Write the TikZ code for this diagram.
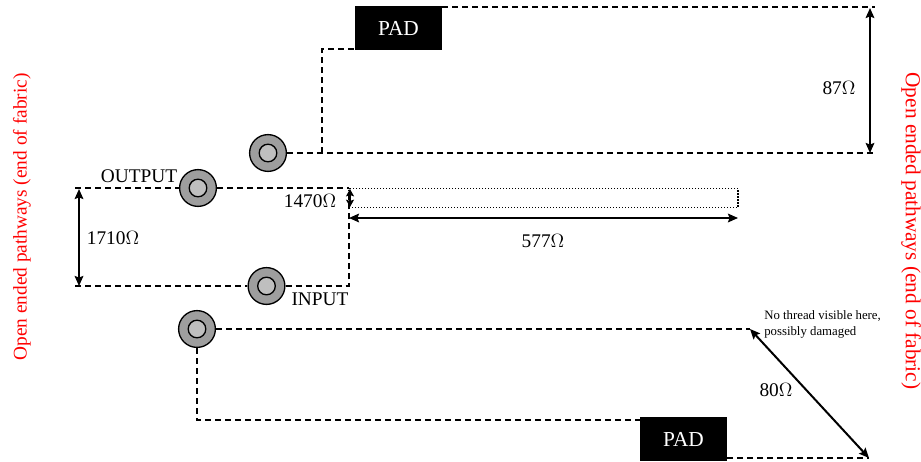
\documentclass[tikz,border=0pt]{standalone}
\usepackage{fontspec}
\usetikzlibrary{arrows.meta}
\setmainfont{Liberation Serif}
\tikzset{
    thread/.style={-,dash pattern=on 4.5pt off 3pt,line width=1.1pt},
    span/.style={{Stealth[length=7.5pt,width=6.5pt,inset=1.2pt]}-{Stealth[length=7.5pt,width=6.5pt,inset=1.2pt]},line width=1.5pt},
    shortspan/.style={{Stealth[length=5.5pt,width=6pt,inset=1pt]}-{Stealth[length=5.5pt,width=6pt,inset=1pt]},line width=1.5pt},
    pad/.style={fill=black,text=white,minimum width=65.25pt,minimum height=33pt,inner sep=0pt,font=\fontsize{16}{18}\selectfont},
    via/.style={circle,draw,fill=black!38,line width=1pt,minimum size=27.6pt,inner sep=0pt},
    viacore/.style={circle,draw,fill=black!25,line width=1pt,minimum size=13.2pt,inner sep=0pt},
    note/.style={red,font=\fontsize{14.5}{17}\selectfont}
}
\begin{document}
\begin{tikzpicture}[x=0.75pt,y=-0.75pt,font=\fontsize{14.5}{17}\selectfont]
    \useasboundingbox(0,0)rectangle(921,461);
    \node[pad](padtop)at(398.5,28){PAD};
    \node[pad](padbot)at(683.5,439){PAD};
    \foreach \name/\pos in {viatop/{(268,153)},viaout/{(198,188)},viain/{(266.5,286)},viabot/{(197,329)}}{
        \node[via](\name)at\pos{};
        \node[viacore](\name core)at\pos{};
    }
    \coordinate(outend)at(75,188);\coordinate(inend)at(75,286);
    \coordinate(joint)at(349,188);\coordinate(turn)at(349,286);
    \coordinate(topend)at(875,7);\coordinate(midend)at(875,153);
    \coordinate(damage)at(750,329);\coordinate(botend)at(869,458);
    \draw[thread](padtop.east|-topend)--(topend);
    \draw[thread](viatop)--(midend);
    \draw[thread](322,153)--(322,49)--(padtop.west|-322,49);
    \draw[thread](outend)--(viaout);\draw[thread](viaout)--(joint);
    \draw[thread](inend)--(viain);\draw[thread](viain)--(turn)--(joint);
    \draw[thread](viabot)--(damage);
    \draw[thread](viabot)--(197,420)--(padbot.west|-197,420);
    \draw[thread](padbot.east|-botend)--(botend);
    \node[draw,dash pattern=on 1pt off 1.25pt,line width=1pt,inner sep=0pt,minimum width=291.75pt,minimum height=14.25pt](trace)at(543.5,198){};
    \draw[span](870,8)--(870,153);
    \draw[span](79,189)--(79,286);
    \draw[shortspan](350,189)--(350,207);
    \draw[span](349,218)--(738,218);
    \draw[span](damage)--(botend);
    \node at(839,88){87$\Omega$};
    \node at(113,238){1710$\Omega$};
    \node at(310,201){1470$\Omega$};
    \node at(543,241){577$\Omega$};
    \node at(776,390){80$\Omega$};
    \node at(139,176){OUTPUT};
    \node at(320,299){INPUT};
    \node[align=left,anchor=north west,inner sep=0pt,font=\fontsize{9.6}{12}\selectfont]at(764,310){No thread visible here,\\possibly damaged};
    \node[note,rotate=90]at(22,217){Open ended pathways (end of fabric)};
    \node[note,rotate=-90,font=\fontsize{16}{18}\selectfont]at(911,231){Open ended pathways (end of fabric)};
\end{tikzpicture}
\end{document}
